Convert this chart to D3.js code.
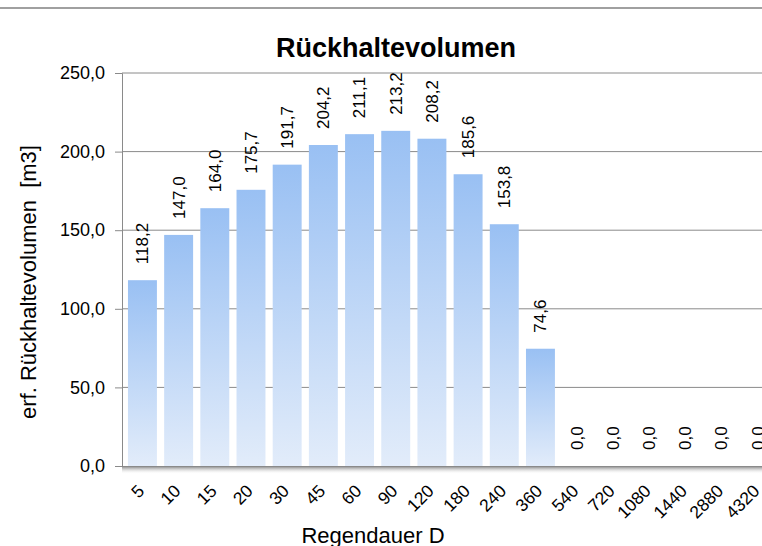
<!DOCTYPE html>
<html>
<head>
<meta charset="utf-8">
<script src="https://cdn.jsdelivr.net/npm/d3@7"></script>
<style>
  body { margin: 0; background: #fff; }
  text { font-family: "Liberation Sans", Arial, sans-serif; fill: #000; }
</style>
</head>
<body>
<svg id="chart"></svg>
<script>
const durations = ["5", "10", "15", "20", "30", "45", "60", "90", "120", "180", "240", "360", "540", "720", "1080", "1440", "2880", "4320"];
const volumes = [118.2, 147.0, 164.0, 175.7, 191.7, 204.2, 211.1, 213.2, 208.2, 185.6, 153.8, 74.6, 0, 0, 0, 0, 0, 0];
const yTicks = [0, 50, 100, 150, 200, 250];

const width = 762;
const height = 546;
const margin = { top: 73, right: -16, bottom: 80, left: 122 };

const fmt = (v) => d3.format(".1f")(v).replace(".", ",");

const svg = d3.select("#chart").attr("width", width).attr("height", height);

const defs = svg.append("defs");
const barGrad = defs.append("linearGradient")
  .attr("id", "barGrad").attr("x1", 0).attr("y1", 0).attr("x2", 0).attr("y2", 1);
barGrad.append("stop").attr("offset", "0%").attr("stop-color", "#99c0f3");
barGrad.append("stop").attr("offset", "100%").attr("stop-color", "#e2ecfa");

const shadowGrad = defs.append("linearGradient")
  .attr("id", "shadowGrad").attr("x1", 0).attr("y1", 0).attr("x2", 0).attr("y2", 1);
shadowGrad.append("stop").attr("offset", "0%").attr("stop-color", "#6d6d6d").attr("stop-opacity", 0.9);
shadowGrad.append("stop").attr("offset", "100%").attr("stop-color", "#ffffff").attr("stop-opacity", 0);

// chart frame top border
svg.append("line")
  .attr("x1", 0).attr("x2", width).attr("y1", 8).attr("y2", 8)
  .attr("stroke", "#a0a0a0").attr("stroke-width", 2);

const x = d3.scaleBand()
  .domain(durations)
  .range([margin.left, width - margin.right])
  .paddingInner(0.2)
  .paddingOuter(0.165);

const y = d3.scaleLinear()
  .domain([0, 250])
  .range([height - margin.bottom, margin.top]);

// gridlines
svg.append("g")
  .selectAll("line")
  .data(yTicks.filter((d) => d > 0))
  .enter()
  .append("line")
  .attr("x1", margin.left).attr("x2", width)
  .attr("y1", (d) => y(d)).attr("y2", (d) => y(d))
  .attr("stroke", "#8a8a8a").attr("stroke-width", 1);

// y axis
const yAxis = svg.append("g")
  .attr("transform", `translate(${margin.left},0)`)
  .call(d3.axisLeft(y).tickValues(yTicks).tickSize(7).tickPadding(10).tickFormat(fmt));
yAxis.select(".domain").attr("stroke", "#8a8a8a");
yAxis.selectAll(".tick line").attr("stroke", "#8a8a8a");
yAxis.selectAll(".tick text").style("font-size", "18px");

// bars
svg.append("g")
  .selectAll("rect")
  .data(volumes)
  .enter()
  .append("rect")
  .attr("x", (d, i) => x(durations[i]))
  .attr("y", (d) => y(d))
  .attr("width", x.bandwidth())
  .attr("height", (d) => y(0) - y(d))
  .attr("fill", "url(#barGrad)");

// axis shadow
svg.append("rect")
  .attr("x", margin.left).attr("y", y(0))
  .attr("width", width - margin.left).attr("height", 8)
  .attr("fill", "url(#shadowGrad)");

// x axis
const xAxis = svg.append("g")
  .attr("transform", `translate(0,${y(0)})`)
  .call(d3.axisBottom(x).tickSize(0).tickPadding(0));
xAxis.select(".domain").attr("stroke", "#8a8a8a");
xAxis.selectAll(".tick text")
  .style("font-size", "17.5px")
  .attr("text-anchor", "end")
  .attr("dy", null)
  .attr("y", 0)
  .attr("transform", "translate(3,26) rotate(-45)");

// value labels
svg.append("g")
  .selectAll("text")
  .data(volumes)
  .enter()
  .append("text")
  .attr("transform", (d, i) => `translate(${x(durations[i]) + x.bandwidth() / 2},${y(d) - 16}) rotate(-90)`)
  .attr("text-anchor", "start")
  .attr("dy", "0.35em")
  .style("font-size", "17px")
  .text((d) => fmt(d));

// title
svg.append("text")
  .attr("x", 396).attr("y", 57)
  .attr("text-anchor", "middle")
  .style("font-size", "27px")
  .style("font-weight", "bold")
  .text("Rückhaltevolumen");

// y axis title
svg.append("text")
  .attr("transform", "translate(36,282) rotate(-90)")
  .attr("text-anchor", "middle")
  .style("font-size", "22px")
  .style("white-space", "pre")
  .text("erf. Rückhaltevolumen  [m3]");

// x axis title
svg.append("text")
  .attr("x", 373).attr("y", 543)
  .attr("text-anchor", "middle")
  .style("font-size", "22px")
  .text("Regendauer D");
</script>
</body>
</html>
